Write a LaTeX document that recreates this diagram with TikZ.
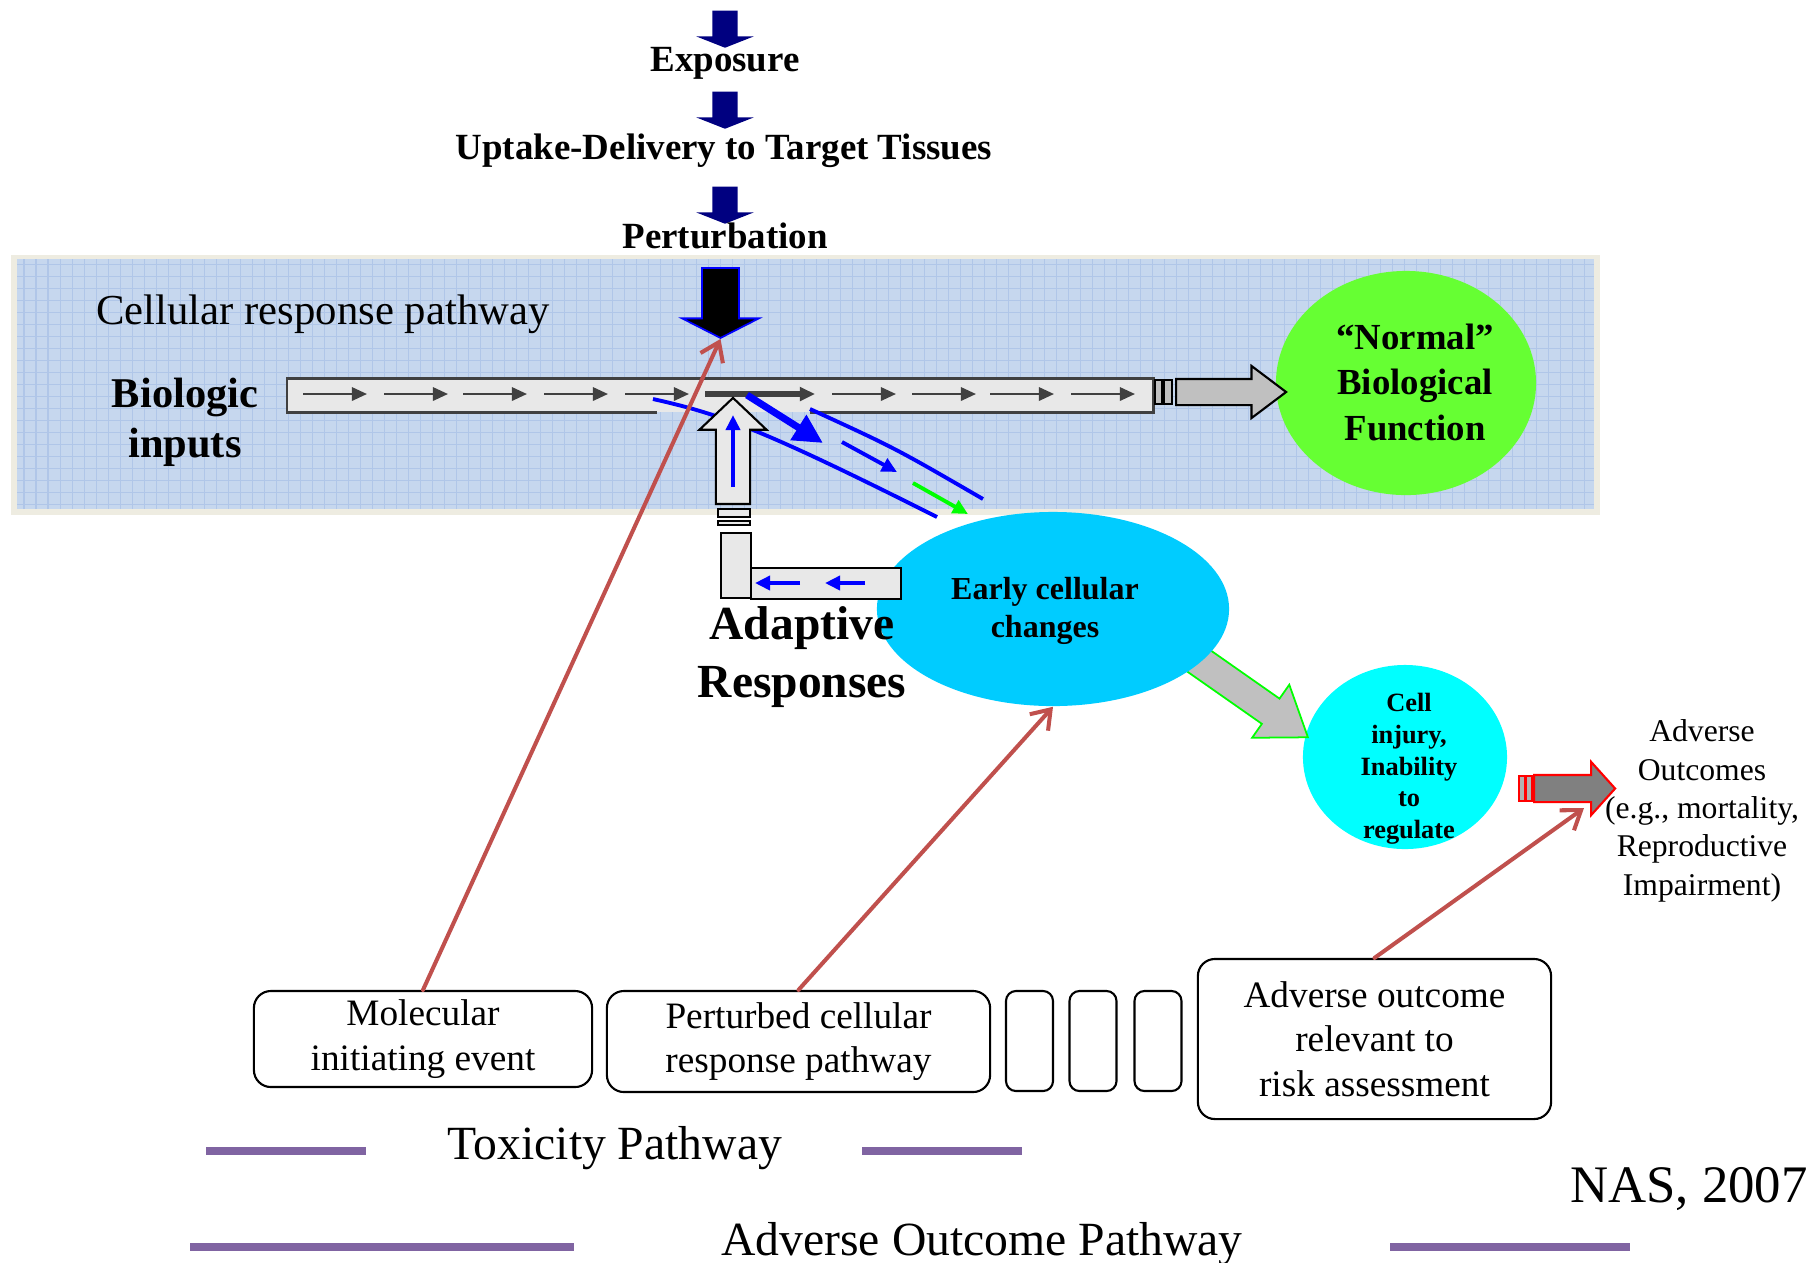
\documentclass[tikz,border=0pt]{standalone}
\usepackage{fontspec}
\setmainfont{Liberation Serif}
\usetikzlibrary{shapes.geometric, shapes.arrows, arrows.meta, positioning, calc}

\definecolor{navyarrow}{RGB}{0,0,128}
\definecolor{panelblue}{RGB}{198,215,238}
\definecolor{gridblue}{RGB}{176,198,232}
\definecolor{panelrim}{RGB}{238,236,225}
\definecolor{pipegray}{RGB}{232,232,232}
\definecolor{pipeline}{RGB}{64,64,64}
\definecolor{arrowgray}{RGB}{192,192,192}
\definecolor{normalgreen}{RGB}{102,255,51}
\definecolor{earlycyan}{RGB}{0,204,255}
\definecolor{injurycyan}{RGB}{0,255,255}
\definecolor{linkred}{RGB}{192,80,77}
\definecolor{barpurple}{RGB}{128,100,162}

\begin{document}
\begin{tikzpicture}[x=0.01cm, y=-0.01cm,
    blockarrow/.style={single arrow, inner xsep=0pt, draw, line width=0.6pt, anchor=tail},
    downarrow/.style={single arrow, inner xsep=0pt, inner ysep=0.12cm, fill=navyarrow, rotate=-90, anchor=tail,
        minimum height=0.37cm, single arrow head extend=0.16cm, single arrow tip angle=137},
    pipearrow/.style={pipeline, line width=0.65pt, -{Triangle[length=4.3pt, width=3.8pt]}},
    bluearrow/.style={blue, line width=1.1pt, -{Triangle[length=4.3pt, width=4pt]}},
    link/.style={linkred, line width=1.15pt, line cap=round, -{Straight Barb[length=5pt, width=7pt]}},
    stepbox/.style={draw, rounded corners=0.17cm, line width=0.6pt, inner sep=2pt,
        align=center, font=\fontsize{10.6}{12.7}\selectfont},
    toplabel/.style={font=\fontsize{10.5}{12}\selectfont\bfseries, anchor=base},
    purplebar/.style={barpurple, line width=2.3pt},
  ]
    \useasboundingbox (0,0) rectangle (1814,1262);

    % Exposure chain
    \node[downarrow] (expoarrow) at (725,10) {};
    \node[toplabel] (exposure) at (725,71) {Exposure};
    \node[downarrow] (uptakearrow) at (725,91) {};
    \node[toplabel] (uptake) at (724,159) {Uptake-Delivery to Target Tissues};
    \node[downarrow] (pertarrow) at (725,186) {};
    \node[toplabel] (perturbation) at (725,248) {Perturbation};

    % Cellular panel
    \fill[panelrim] (11,255) rectangle (1600,515);
    \fill[panelblue] (17,259) rectangle (1594,509);
    \draw[gridblue, line width=0.3pt, step=0.12cm] (17,509) grid (1594,259);
    \node[font=\fontsize{12.15}{14}\selectfont, anchor=base] (crplabel) at (323,324) {Cellular response pathway};
    \node[font=\fontsize{12.06}{14.2}\selectfont\bfseries, align=center] (bioinputs) at (185,422) {Biologic\\inputs};

    % Pathway pipe
    \fill[pipegray] (287,378) rectangle (1153,412);
    \draw[pipeline, line width=0.85pt] (657,412) -- (287,412) -- (287,378) -- (1153,378) -- (1153,412) -- (810,412);
    \foreach \x in {303,384,463,544,625,832,912,990,1071}
        \draw[pipearrow] (\x,394) -- ++(64,0);
    \draw[pipearrow, line width=1.7pt] (705,394) -- (815,394);

    % Normal function
    \node[ellipse, fill=normalgreen, minimum width=2.6cm, minimum height=2.24cm] (normal) at (1406,383) {};
    \node[align=center, font=\fontsize{10.45}{12.95}\selectfont\bfseries] (normaltext) at (1415,382) {“Normal”\\Biological\\Function};
    \draw[fill=arrowgray, line width=0.5pt] (1155,380) rectangle (1162,404);
    \draw[fill=arrowgray, line width=0.5pt] (1164,380) rectangle (1172,404);
    \node[blockarrow, fill=arrowgray, inner ysep=0.12cm, minimum height=1.1cm,
        single arrow head extend=0.13cm, single arrow tip angle=74] (normalarrow) at (1175,392) {};

    % Perturbation hit
    \node[blockarrow, fill=black, draw=blue, line width=0.5pt, rotate=-90, inner ysep=0.175cm, minimum height=0.7cm,
        single arrow head extend=0.2cm, single arrow tip angle=126] (hitarrow) at (720.5,267) {};

    % Branch off the pathway
    \draw[blue, line width=1.1pt] (653,399) .. controls (720,414) and (760,428) .. (937,517);
    \draw[blue, line width=1.1pt] (810,409) .. controls (895,448) .. (983,499);
    \draw[blue, line width=2pt, -{Triangle[length=8.3pt, width=8pt]}] (747,395) -- (823,443);
    \draw[bluearrow] (842,442) -- (897,472);
    \draw[bluearrow, green] (913,483) -- (968,514);

    % Cell injury and early changes
    \node[ellipse, fill=injurycyan, minimum width=2.04cm, minimum height=1.84cm] (injury) at (1405,757) {};
    \node[align=center, font=\fontsize{7.5}{9}\selectfont\bfseries] (injurytext) at (1409,769) {Cell\\injury,\\Inability\\to\\regulate};
    \node[blockarrow, fill=arrowgray, draw=green, line width=0.5pt, rotate=-35, inner ysep=0.145cm, minimum height=1.93cm,
        single arrow head extend=0.17cm, single arrow tip angle=71] (injuryarrow) at (1149,626) {};
    \node[ellipse, fill=earlycyan, minimum width=3.52cm, minimum height=1.94cm] (early) at (1053,609) {};
    \node[align=center, font=\fontsize{9.1}{10.8}\selectfont\bfseries] (earlytext) at (1045,611) {Early cellular\\changes};

    % Adaptive loop
    \draw[fill=pipegray, line width=0.6pt] (721,533) rectangle (751,598);
    \draw[fill=pipegray, line width=0.6pt] (751,568) rectangle (901,599);
    \draw[fill=pipegray, line width=0.6pt] (718,509) rectangle (750,517);
    \draw[fill=pipegray, line width=0.6pt] (718,521) rectangle (750,525);
    \node[blockarrow, fill=pipegray, rotate=90, inner ysep=0.16cm, minimum height=1.06cm,
        single arrow head extend=0.165cm, single arrow tip angle=93] (adaptarrow) at (733,505) {};
    \draw[bluearrow] (733,487) -- (733,415);
    \draw[bluearrow] (800,583) -- (755,583);
    \draw[bluearrow] (865,583) -- (825,583);
    \node[align=center, font=\fontsize{13.5}{16.5}\selectfont\bfseries] (adaptive) at (802,657) {Adaptive\\Responses};

    % Adverse outcomes
    \draw[draw=red, fill=gray!60, line width=0.5pt] (1519,776) rectangle (1525,801);
    \draw[draw=red, fill=gray!60, line width=0.5pt] (1526,776) rectangle (1532,801);
    \node[blockarrow, fill=gray, draw=red, inner ysep=0.125cm, minimum height=0.81cm,
        single arrow head extend=0.13cm, single arrow tip angle=96] (outarrow) at (1533,788.5) {};
    \node[align=center, font=\fontsize{9}{10.9}\selectfont] (aotext) at (1702,811) {Adverse\\Outcomes\\(e.g., mortality,\\Reproductive\\Impairment)};

    % Pathway steps
    \node[stepbox, minimum width=3.38cm, minimum height=0.96cm] (mie) at (423,1039) {Molecular\\initiating event};
    \node[stepbox, minimum width=3.83cm, minimum height=1.01cm] (pcrp) at (798.5,1041.5) {Perturbed cellular\\response pathway};
    \foreach \x [count=\i] in {1029.5,1093,1158}
        \node[stepbox, rounded corners=0.1cm, minimum width=0.47cm, minimum height=1cm] (gap\i) at (\x,1041) {};
    \node[stepbox, minimum width=3.53cm, minimum height=1.6cm] (aobox) at (1374.5,1039) {Adverse outcome\\relevant to\\risk assessment};

    % Links
    \coordinate (aoin) at (1584,808);
    \draw[link] (mie.north) -- (hitarrow.tip);
    \draw[link] (pcrp.north) -- (early.south);
    \draw[link] (aobox.north) -- (aoin);

    % Labels
    \node[font=\fontsize{13.55}{16}\selectfont, anchor=base] (toxpath) at (615,1159) {Toxicity Pathway};
    \draw[purplebar] (206,1151) -- (366,1151);
    \draw[purplebar] (862,1151) -- (1022,1151);
    \node[font=\fontsize{13.55}{16}\selectfont, anchor=base] (aoppath) at (982,1255) {Adverse Outcome Pathway};
    \draw[purplebar] (190,1247) -- (574,1247);
    \draw[purplebar] (1390,1247) -- (1630,1247);
    \node[font=\fontsize{15}{18}\selectfont, anchor=base] (nas) at (1689,1202) {NAS, 2007};
\end{tikzpicture}
\end{document}
